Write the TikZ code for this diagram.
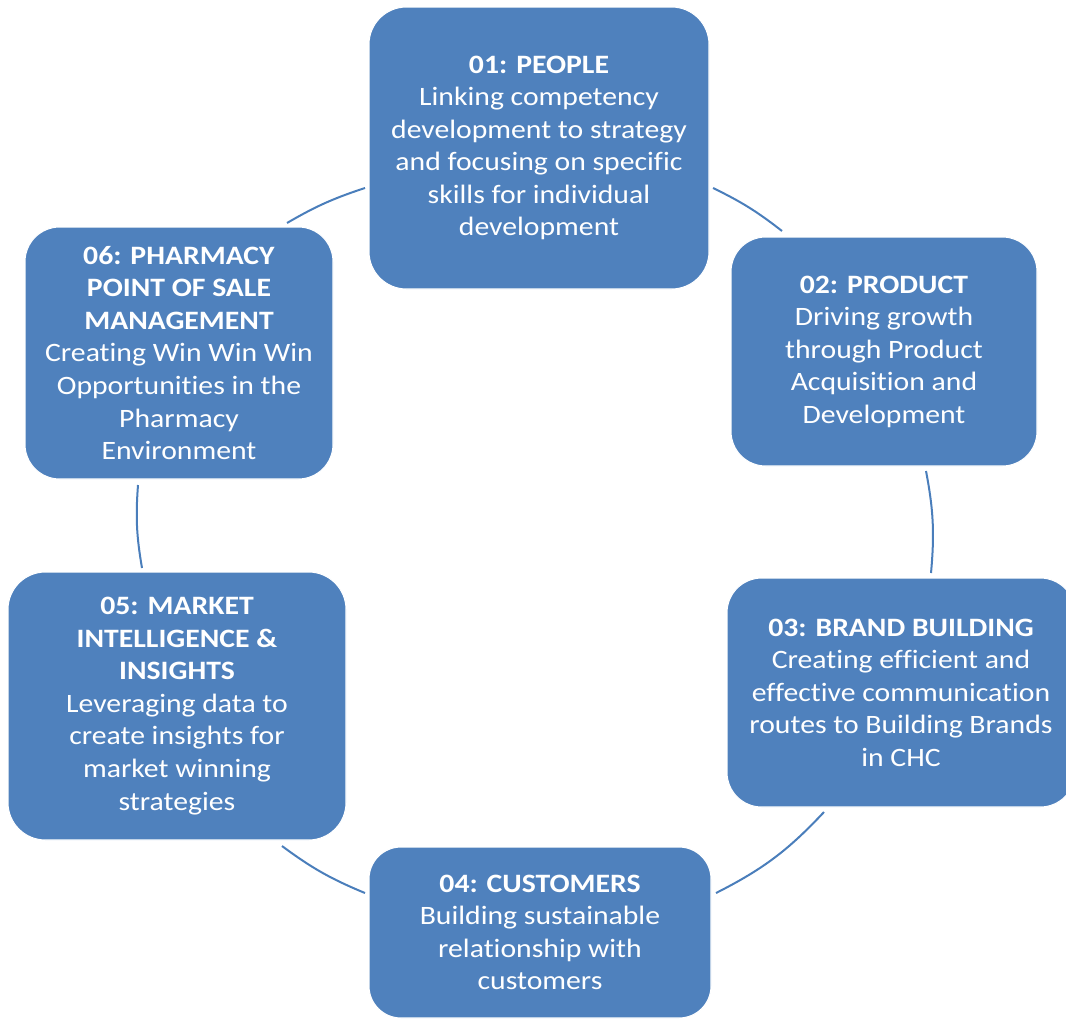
\documentclass[tikz,border=0pt]{standalone}
\usepackage{fontspec}
\setmainfont{Carlito}[FakeStretch=1.12, Ligatures=NoCommon]
\definecolor{boxblue}{HTML}{4F81BD}
\definecolor{lineblue}{HTML}{4A7EBB}
\tikzset{
  cyclebox/.style={fill=boxblue, draw=white, line width=0.8pt, text=white, align=center,
    inner sep=0pt, font=\fontsize{19.9}{24.4}\selectfont},
  cycleline/.style={draw=lineblue, line width=1.5pt}
}
\begin{document}
\begin{tikzpicture}[x=0.75pt,y=0.75pt]
\useasboundingbox (0,0) rectangle (1066,-1018);
\clip (0,0) rectangle (1066,-1018);
% boxes
\node[cyclebox, rounded corners=28pt, minimum width=255pt, minimum height=211.5pt] (people) at (539,-148)
  {\textbf{01: PEOPLE}\\Linking competency\\development to strategy\\and focusing on specific\\skills for individual\\development};
\node[cyclebox, rounded corners=26pt, minimum width=229.5pt, minimum height=171.75pt] (product) at (884,-351.5)
  {\textbf{02: PRODUCT}\\Driving growth\\through Product\\Acquisition and\\Development};
\node[cyclebox, rounded corners=26pt, minimum width=261pt, minimum height=171.75pt] (brand) at (901,-692.5)
  {\textbf{03: BRAND BUILDING}\\Creating efficient and\\effective communication\\routes to Building Brands\\in CHC};
\node[cyclebox, rounded corners=24pt, minimum width=256.5pt, minimum height=128.25pt] (customers) at (540,-932.5)
  {\textbf{04: CUSTOMERS}\\Building sustainable\\relationship with\\customers};
\node[cyclebox, rounded corners=28pt, minimum width=253.5pt, minimum height=201pt] (market) at (177,-706)
  {\textbf{05: MARKET}\\\textbf{INTELLIGENCE \&}\\\textbf{INSIGHTS}\\Leveraging data to\\create insights for\\market winning\\strategies};
\node[cyclebox, rounded corners=26pt, minimum width=231pt, minimum height=189pt] (pharmacy) at (179,-353)
  {\textbf{06: PHARMACY}\\\textbf{POINT OF SALE}\\\textbf{MANAGEMENT}\\Creating Win Win Win\\Opportunities in the\\Pharmacy\\Environment};
% connector end points
\coordinate (a1) at (713,-188);
\coordinate (a2) at (782,-231);
\coordinate (b1) at (926,-471);
\coordinate (b2) at (931,-573);
\coordinate (c1) at (824,-812);
\coordinate (c2) at (716,-893);
\coordinate (d1) at (365,-893);
\coordinate (d2) at (282,-846);
\coordinate (e1) at (142,-568);
\coordinate (e2) at (138,-485);
\coordinate (f1) at (287,-223);
\coordinate (f2) at (365,-188);
% connectors
\draw[cycleline] (a1) to[bend left=6] (a2);
\draw[cycleline] (b1) to[bend left=8] (b2);
\draw[cycleline] (c1) to[bend left=10] (c2);
\draw[cycleline] (d1) to[bend left=7] (d2);
\draw[cycleline] (e1) to[bend left=7] (e2);
\draw[cycleline] (f1) to[bend left=6] (f2);
\end{tikzpicture}
\end{document}
